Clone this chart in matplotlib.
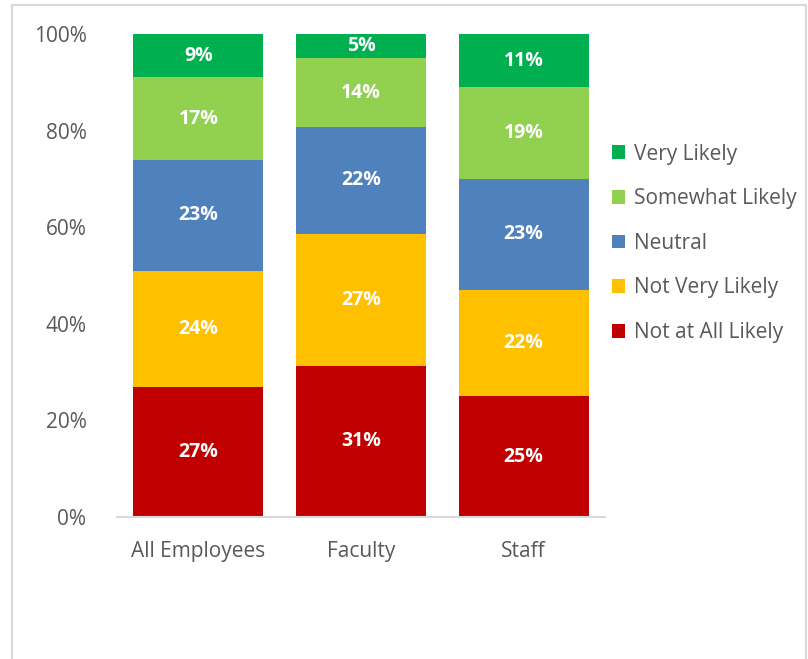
import matplotlib
matplotlib.use("Agg")
import matplotlib.pyplot as plt
from matplotlib.patches import Rectangle
import numpy as np

categories = ["All Employees", "Faculty", "Staff"]
series_names = ["Not at All Likely", "Not Very Likely", "Neutral", "Somewhat Likely", "Very Likely"]
not_at_all = [27, 31, 25]
not_very = [24, 27, 22]
neutral = [23, 22, 23]
somewhat = [17, 14, 19]
very = [9, 5, 11]
colors = ["#C00000", "#FFC000", "#4F81BD", "#92D050", "#00B050"]
yticks = [0, 20, 40, 60, 80, 100]

plt.rcParams['font.family'] = ['Open Sans', 'DejaVu Sans']
fig = plt.figure(figsize=(8.08, 6.59), dpi=100)
ax = fig.add_axes([117/808, 142/659, (605-117)/808, (517-34)/659])

data = np.array([not_at_all, not_very, neutral, somewhat, very], dtype=float)
totals = data.sum(axis=0)
pct = data / totals * 100
x = np.arange(len(categories))
bottom = np.zeros(len(categories))
handles = []
for i, name in enumerate(series_names):
    b = ax.bar(x, pct[i], 0.8, bottom=bottom, color=colors[i], label=name, zorder=2)
    handles.append(b)
    for j in range(len(categories)):
        ax.text(x[j], bottom[j] + pct[i][j] / 2, f"{int(data[i][j])}%", ha='center', va='center',
                color='white', fontsize=14, fontweight='bold')
    bottom += pct[i]

ax.set_xlim(-0.5, 2.5)
ax.set_ylim(0, 100)
ax.set_yticks(yticks)
ax.set_yticklabels([f"{t}%" for t in yticks])
ax.set_xticks(x)
ax.set_xticklabels(categories)
ax.tick_params(axis='both', length=0, labelsize=15, colors='#595959')
ax.tick_params(axis='y', pad=22)
ax.tick_params(axis='x', pad=17)
for s in ['top', 'right', 'left']:
    ax.spines[s].set_visible(False)
ax.spines['bottom'].set_color('#D9D9D9')
ax.spines['bottom'].set_linewidth(1.5)

leg = fig.legend(handles[::-1], series_names[::-1], loc='upper left',
                 bbox_to_anchor=(593/808, 1 - 125/659), frameon=False,
                 fontsize=15, labelcolor='#595959', handlelength=0.65, handleheight=0.65,
                 handletextpad=0.4, labelspacing=1.13)

fig.patches.append(Rectangle((12/808, -0.02), (806-12)/808, 1 - 5/659 + 0.02,
                             transform=fig.transFigure, fill=False,
                             edgecolor='#D9D9D9', linewidth=1.5))
fig.savefig("out.png", dpi=100)
